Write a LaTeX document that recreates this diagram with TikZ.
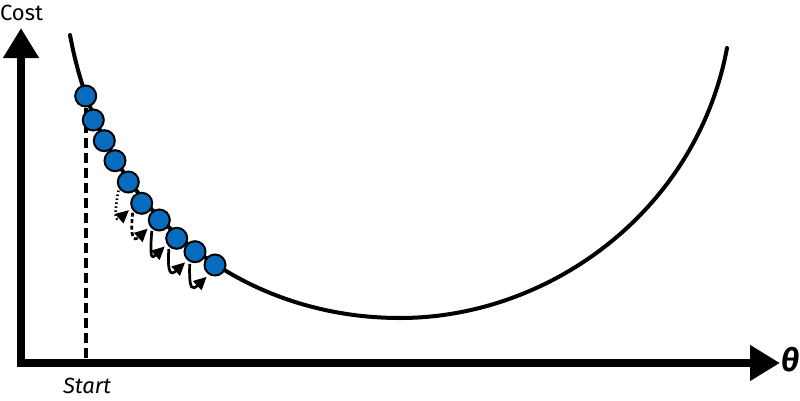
\documentclass[tikz,border=0pt]{standalone}
\usepackage{fontspec}
\setmainfont{Fira Sans}
\usepackage{tikz}
\usetikzlibrary{arrows.meta}
\definecolor{ballblue}{RGB}{8,108,190}
\tikzstyle{ball} = [circle, draw=black, line width=2pt, fill=ballblue, minimum size=21pt, inner sep=0pt]
\tikzstyle{curve} = [line width=4pt, line cap=round]
\tikzstyle{axisline} = [line width=7.5pt, line join=miter, {Triangle[length=30pt,width=34pt]}-{Triangle[length=30pt,width=34pt]}]
\tikzstyle{guide} = [line width=4pt, dash pattern=on 10pt off 5pt]
\tikzstyle{hop} = [line width=2.7pt, -{Triangle[length=13pt,width=12pt]}, shorten <=2pt, shorten >=3pt]
\tikzstyle{tag} = [inner sep=0pt, font=\fontsize{22}{26}\selectfont]

\begin{document}
\begin{tikzpicture}[x=1pt, y=1pt]
\useasboundingbox (0,0) rectangle (800,400);

\coordinate (ytip) at (21,372);
\coordinate (origin) at (21,37);
\coordinate (xtip) at (780,37);
\draw [axisline] (ytip) -- (origin) -- (xtip);

\node (cost) [tag] at (21.5,387.5) {Cost};
\node (theta) [tag, font=\fontsize{32}{36}\selectfont\bfseries\itshape] at (790,40) {θ};

\draw [curve] (70,365) .. controls (105,176) and (250,82) .. (400,82)
  .. controls (550,82) and (697,190) .. (727,352);

\node (pt1) [ball] at (85.7,304) {};
\draw [guide] (pt1.south) -- (pt1.south |- origin);
\node (start) [tag, font=\fontsize{22}{26}\selectfont\itshape] at (87,14.5) {Start};
\node (pt2) [ball] at (93.3,280) {};
\node (pt3) [ball] at (104.3,259.3) {};
\node (pt4) [ball] at (115,239.3) {};
\node (pt5) [ball] at (128.3,218) {};
\node (pt6) [ball] at (141.7,196.7) {};
\node (pt7) [ball] at (159.3,180) {};
\node (pt8) [ball] at (176.7,161.7) {};
\node (pt9) [ball] at (195,148.3) {};
\node (pt10) [ball] at (215,135) {};

\draw [hop, dash pattern=on 1.5pt off 2.5pt] (pt5.215) .. controls +(-5,-26) and +(-16,-14) .. (pt6.205);
\draw [hop, dash pattern=on 4pt off 2.5pt] (pt6.220) .. controls +(-3,-28) and +(-16,-15) .. (pt7.215);
\draw [hop] (pt7.230) .. controls +(-2,-28) and +(-16,-15) .. (pt8.212);
\draw [hop] (pt8.228) .. controls +(-2,-28) and +(-16,-15) .. (pt9.228);
\draw [hop] (pt9.243) .. controls +(-1,-30) and +(-16,-15) .. (pt10.238);
\end{tikzpicture}
\end{document}
